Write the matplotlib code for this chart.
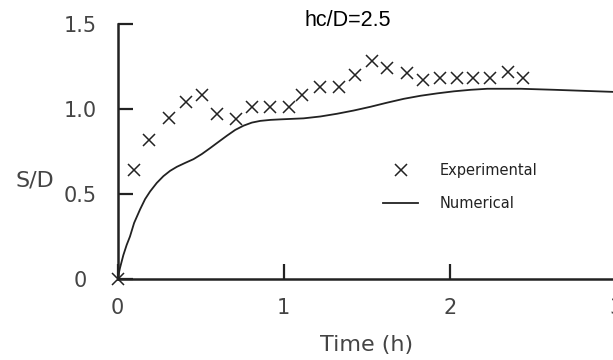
import numpy as np
import matplotlib
matplotlib.use('Agg')
import matplotlib.pyplot as plt
import matplotlib.transforms as mtransforms

# Experimental points (time in h, S/D)
exp_t = [0.0, 0.10, 0.19, 0.31, 0.41, 0.51, 0.60, 0.71, 0.81, 0.92, 1.03, 1.11, 1.22,
         1.33, 1.43, 1.53, 1.62, 1.74, 1.84, 1.94, 2.04, 2.14, 2.24, 2.35, 2.44]
exp_sd = [0.0, 0.64, 0.82, 0.95, 1.04, 1.08, 0.97, 0.94, 1.01, 1.01, 1.01, 1.08, 1.13,
          1.13, 1.20, 1.28, 1.24, 1.21, 1.17, 1.18, 1.18, 1.18, 1.18, 1.22, 1.18]

# Numerical solution
num_t = [0.0, 0.015, 0.035, 0.055, 0.075, 0.10, 0.136, 0.166, 0.196, 0.236, 0.276, 0.316,
         0.357, 0.407, 0.457, 0.507, 0.557, 0.608, 0.658, 0.708, 0.758, 0.808, 0.858,
         0.92, 0.979, 1.119, 1.22, 1.320, 1.42, 1.521, 1.62, 1.722, 1.823, 1.923, 2.023,
         2.124, 2.224, 2.425, 2.625, 3.0]
num_sd = [0.0, 0.065, 0.14, 0.20, 0.25, 0.33, 0.41, 0.47, 0.515, 0.565, 0.605, 0.636,
          0.660, 0.683, 0.705, 0.735, 0.770, 0.807, 0.843, 0.877, 0.902, 0.920, 0.930,
          0.936, 0.939, 0.945, 0.956, 0.972, 0.991, 1.013, 1.037, 1.060, 1.078, 1.092,
          1.104, 1.113, 1.119, 1.119, 1.113, 1.10]

W, H = 613, 360
fig = plt.figure(figsize=(W / 100, H / 100), dpi=100)
x0, x3 = 117.5, 117.5 + 3 * 166.3
y0, y15 = 279, 24
ax = fig.add_axes([x0 / W, 1 - y0 / H, (x3 - x0) / W, (y0 - y15) / H])

line_col = '#222222'
ax.plot(exp_t, exp_sd, 'x', color=line_col, ms=8.5, mew=1.1, label='Experimental', clip_on=False)
ax.plot(num_t, num_sd, '-', color=line_col, lw=1.3, label='Numerical')

ax.set_xlim(0, 3)
ax.set_ylim(0, 1.5)
ax.set_xticks([0, 1, 2, 3])
ax.set_xticklabels(['0', '1', '2', '3'])
ax.set_yticks([0, 0.5, 1.0, 1.5])
ax.set_yticklabels(['0', '0.5', '1.0', '1.5'])
for s in ['top', 'right']:
    ax.spines[s].set_visible(False)
for s in ['left', 'bottom']:
    ax.spines[s].set_color(line_col)
    ax.spines[s].set_linewidth(1.8)
ax.tick_params(direction='in', length=11, width=1.6, color=line_col,
               labelsize=15, labelcolor='#444444')
ax.tick_params(axis='y', pad=15)
ax.tick_params(axis='x', pad=14)

# the "0" on the y axis sits a bit further left in the original
lab0 = ax.get_yticklabels()[0]
lab0.set_transform(lab0.get_transform() + mtransforms.ScaledTranslation(-10 / 100, 0, fig.dpi_scale_trans))

ax.set_xlabel('Time (h)', fontsize=16, color='#444444', labelpad=12)
fig.text(35 / W, 1 - 180 / H, 'S/D', fontsize=16, color='#444444', ha='center', va='center')
fig.text(348 / W, 1 - 20 / H, 'hc/D=2.5', fontsize=15.5, color='black', ha='center', va='center',
         family=['Liberation Sans', 'DejaVu Sans'])

leg = ax.legend(loc='upper left', bbox_to_anchor=((370 - x0) / (x3 - x0), (y0 - 150) / (y0 - y15)),
                frameon=False, fontsize=10.5, handlelength=2.4, handletextpad=1.5,
                labelspacing=1.2)
for t in leg.get_texts():
    t.set_color('#222222')

fig.savefig('out.png', dpi=100)
